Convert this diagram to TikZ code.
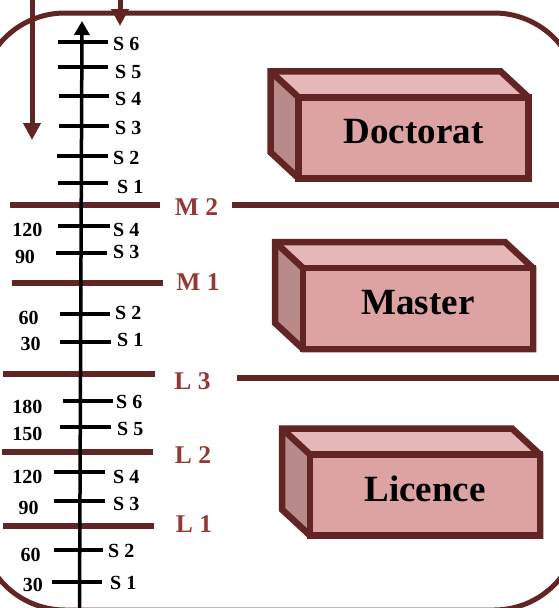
\documentclass[tikz,border=0pt]{standalone}
\usepackage{fontspec}
\setmainfont{Liberation Serif}
\usetikzlibrary{arrows.meta}
\definecolor{brk}{HTML}{632523}
\definecolor{lvl}{HTML}{953735}
\definecolor{frontc}{HTML}{DCA3A2}
\definecolor{topc}{HTML}{E5B8B7}
\definecolor{sidec}{HTML}{B88A89}
\tikzset{
  frame/.style={draw=brk, line width=5pt, rounded corners=85pt},
  levelline/.style={draw=brk, line width=5.5pt},
  flowarrow/.style={draw=brk, line width=5pt, -{Triangle[length=17pt,width=17pt]}},
  axisline/.style={draw=black, line width=3.5pt, -{Triangle[length=14pt,width=15pt]}},
  semtick/.style={draw=black, line width=4pt},
  semlabel/.style={anchor=west, inner sep=0pt, font=\fontsize{20}{22}\selectfont\bfseries},
  credlabel/.style={inner sep=0pt, font=\fontsize{20}{22}\selectfont\bfseries},
  levellabel/.style={inner sep=0pt, text=lvl, font=\fontsize{25.5}{28}\selectfont\bfseries},
  frontface/.style={draw=brk, fill=frontc, line width=6.5pt, minimum width=230pt, minimum height=81pt, inner sep=0pt, outer sep=0pt, line join=miter},
  bricktext/.style={inner sep=0pt, font=\fontsize{37}{40}\selectfont\bfseries},
  topface/.style={fill=topc},
  sideface/.style={fill=sidec},
  brickedge/.style={draw=brk, line width=6.5pt, line join=miter},
}
\newcommand\mybrick[4]{%
  \begin{scope}[shift={(#2,#3)}]
    \fill[sideface] (-115,-40.5) -- (-143,-66.5) -- (-143,14.5) -- (-115,40.5) -- cycle;
    \fill[topface] (-115,-40.5) -- (-143,-66.5) -- (87,-66.5) -- (115,-40.5) -- cycle;
    \draw[brickedge] (-143,-66.5) -- (87,-66.5) -- (115,-40.5) -- (115,40.5) -- (-115,40.5) -- (-143,14.5) -- cycle;
    \draw[brickedge] (-143,-66.5) -- (-115,-40.5);
    \node[frontface] (#1) at (0,0) {};
    \node[bricktext] (#1-t) at (0,-6) {#4};
  \end{scope}}
\begin{document}
\begin{tikzpicture}[x=1pt,y=-1pt]
\useasboundingbox (0,0) rectangle (559,608);
\clip (0,0) rectangle (559,608);
% frame
\draw[frame] (-20,13) rectangle (579,610);
% flow arrows
\coordinate (a1s) at (32,-5);
\coordinate (a1e) at (32,140);
\coordinate (a2s) at (120,-5);
\coordinate (a2e) at (120,26);
\draw[flowarrow] (a1s) -- (a1e);
\draw[flowarrow] (a2s) -- (a2e);
% level lines
\coordinate (m2a) at (10,205);  \coordinate (m2b) at (160,205);
\coordinate (m2c) at (232,205); \coordinate (m2d) at (565,205);
\coordinate (m1a) at (12,283);  \coordinate (m1b) at (163,283);
\coordinate (l3a) at (3,374);   \coordinate (l3b) at (155,374);
\coordinate (l3c) at (237,378); \coordinate (l3d) at (565,378);
\coordinate (l2a) at (2,452);   \coordinate (l2b) at (153,452);
\coordinate (l1a) at (3,526);   \coordinate (l1b) at (154,526);
\draw[levelline] (m2a) -- (m2b);
\draw[levelline] (m2c) -- (m2d);
\draw[levelline] (m1a) -- (m1b);
\draw[levelline] (l3a) -- (l3b);
\draw[levelline] (l3c) -- (l3d);
\draw[levelline] (l2a) -- (l2b);
\draw[levelline] (l1a) -- (l1b);
\node[levellabel] (lbm2) at (196.5,207) {M 2};
\node[levellabel] (lbm1) at (198,282.5) {M 1};
\node[levellabel] (lbl3) at (192.5,381) {L 3};
\node[levellabel] (lbl2) at (193,455) {L 2};
\node[levellabel] (lbl1) at (194,524) {L 1};
% axis
\coordinate (axb) at (79.5,612);
\coordinate (axt) at (82,21);
\draw[axisline] (axb) -- (axt);
% ticks
\foreach \n/\y/\xa/\xb in {d6/42/58/108, d5/67/58/108, d4/96/59/109, d3/126/59/109, d2/156/57/108, d1/183/58/108,
  m4/226/58/110, m3/253/56/107, m2/314/60/110, m1/342/60/111,
  l6/401/63/113, l5/427/60/111, l4/472/54/105, l3/501/54/105, l2/550/54/103, l1/582/52/102}{
  \coordinate (t\n a) at (\xa,\y);
  \coordinate (t\n b) at (\xb,\y);
  \draw[semtick] (t\n a) -- (t\n b);
}
% semester labels
\foreach \n/\x/\y/\t in {d6/113/43.5/S 6, d5/115/72/S 5, d4/115/99/S 4, d3/115/128/S 3, d2/113/158/S 2, d1/117/187/S 1,
  m4/113/230/S 4, m3/113/252/S 3, m2/115/313/S 2, m1/117/340/S 1,
  l6/116/402/S 6, l5/117/429/S 5, l4/113/477/S 4, l3/113/504/S 3, l2/108/551/S 2, l1/110/583/S 1}{
  \node[semlabel] (s\n) at (\x,\y) {\t};
}
% credit labels
\foreach \n/\x/\y/\t in {m4/27.5/230/120, m3/25/257/90, m2/28.5/318/60, m1/30.5/344/30,
  l6/27.5/407/180, l5/27.5/434/150, l4/27.5/477/120, l3/28.5/508/90, l2/30.5/555/60, l1/33/585/30}{
  \node[credlabel] (c\n) at (\x,\y) {\t};
}
% bricks
\mybrick{doc}{413.5}{137.75}{Doctorat}
\mybrick{mas}{418}{308.5}{Master}
\mybrick{lic}{425}{495}{Licence}
\end{tikzpicture}
\end{document}
